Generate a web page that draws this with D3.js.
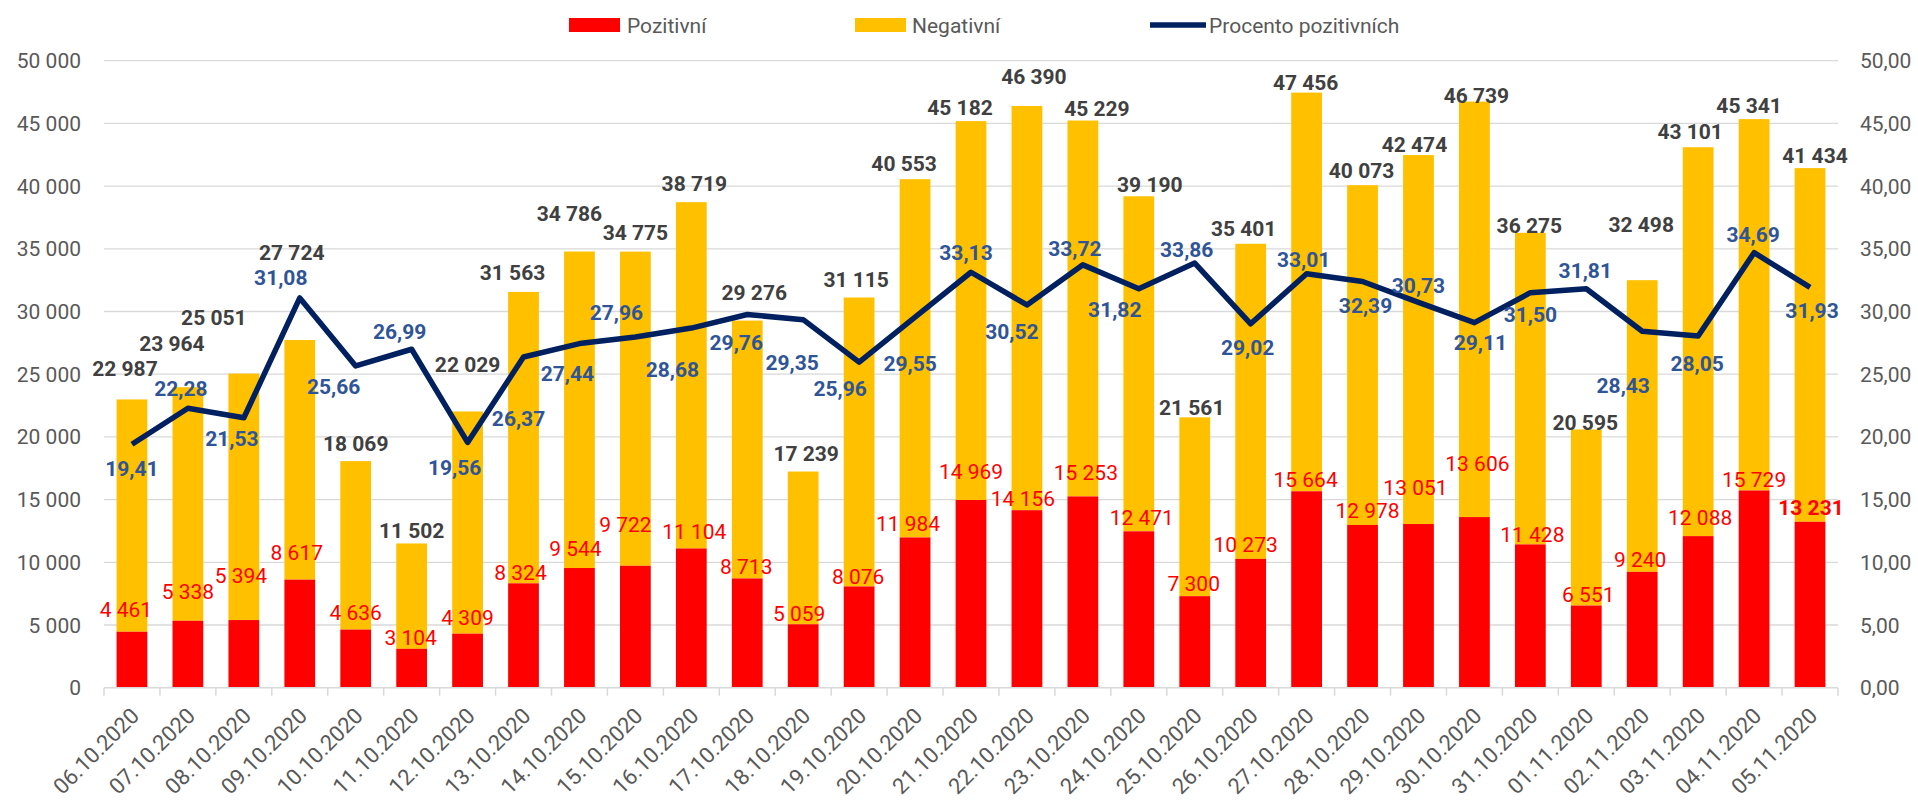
<!DOCTYPE html>
<html>
<head>
<meta charset="utf-8">
<script src="https://cdn.jsdelivr.net/npm/d3@7"></script>
<style>
  body { margin: 0; background: #fff; }
  svg { font-family: Roboto, "Open Sans", sans-serif; }
</style>
</head>
<body>
<svg id="chart" width="1918" height="801"></svg>
<script>
const dates = ["06.10.2020","07.10.2020","08.10.2020","09.10.2020","10.10.2020","11.10.2020","12.10.2020","13.10.2020","14.10.2020","15.10.2020","16.10.2020","17.10.2020","18.10.2020","19.10.2020","20.10.2020","21.10.2020","22.10.2020","23.10.2020","24.10.2020","25.10.2020","26.10.2020","27.10.2020","28.10.2020","29.10.2020","30.10.2020","31.10.2020","01.11.2020","02.11.2020","03.11.2020","04.11.2020","05.11.2020"];
const totals = [22987,23964,25051,27724,18069,11502,22029,31563,34786,34775,38719,29276,17239,31115,40553,45182,46390,45229,39190,21561,35401,47456,40073,42474,46739,36275,20595,32498,43101,45341,41434];
const positives = [4461,5338,5394,8617,4636,3104,4309,8324,9544,9722,11104,8713,5059,8076,11984,14969,14156,15253,12471,7300,10273,15664,12978,13051,13606,11428,6551,9240,12088,15729,13231];
const percents = [19.41,22.28,21.53,31.08,25.66,26.99,19.56,26.37,27.44,27.96,28.68,29.76,29.35,25.96,29.55,33.13,30.52,33.72,31.82,33.86,29.02,33.01,32.39,30.73,29.11,31.50,31.81,28.43,28.05,34.69,31.93];
const leftTicks = [0,5000,10000,15000,20000,25000,30000,35000,40000,45000,50000];
const rightTicks = [0,5,10,15,20,25,30,35,40,45,50];

// label nudges (dx, dy) as placed by hand in the original
const totalOff = [[-7,-31],[-16,-44],[-30,-56],[-8,-88],[0,-18],[0,-13],[0,-47],[-11,-19],[-10,-38],[0,-19],[3,-19],[7,-28],[3,-18],[-3,-18],[-11,-16],[-11,-14],[7,-30],[14,-12],[11,-12],[-3,-10],[-7,-15],[-1,-10],[-1,-15],[-4,-11],[2,-6],[-1,-7],[-1,-7],[-1,-56],[-8,-16],[-5,-14],[5,-13]];
const posOff = [[-6,-22],[0,-29],[-3,-45],[-3,-27],[0,-17],[-1,-11],[0,-16],[-3,-11],[-4,-20],[-10,-41],[3,-17],[-1,-12],[-4,-11],[-1,-10],[-7,-14],[0,-29],[-4,-12],[3,-24],[3,-14],[-1,-13],[-5,-14],[-1,-12],[5,-15],[-3,-37],[3,-54],[2,-10],[2,-11],[-2,-12],[2,-19],[0,-11],[1,-14]];
const pctOff = [[0,24],[-7,-20],[-12,21],[-19,-21],[-22,21],[-12,-18],[-13,25],[-5,61],[-12,30],[-19,-25],[-19,41],[-11,28],[-11,43],[-19,26],[-5,46],[-5,-20],[-15,26],[-8,-16],[-24,21],[-8,-14],[-3,24],[-3,-14],[3,24],[0,-17],[6,20],[0,22],[-1,-18],[-19,54],[-1,27],[-1,-18],[2,23]];

const cz = d3.formatLocale({ decimal: ",", thousands: " ", grouping: [3], currency: ["", ""] });
const fmtInt = cz.format(",d");
const fmtPct = cz.format(".2f");

const svg = d3.select("#chart");
const margin = { left: 104, right: 1838, top: 60.7, bottom: 687.7 };

const x = d3.scaleBand().domain(dates).range([margin.left, margin.right]).paddingInner(0.45).paddingOuter(0.225);
const xEdge = d3.scaleLinear().domain([0, dates.length]).range([margin.left, margin.right]);
const y = d3.scaleLinear().domain([0, 50000]).range([margin.bottom, margin.top]);
const y2 = d3.scaleLinear().domain([0, 50]).range([margin.bottom, margin.top]);
const cx = d => x(d) + x.bandwidth() / 2;

// gridlines
svg.append("g").selectAll("line").data(leftTicks.slice(1)).join("line")
  .attr("x1", margin.left).attr("x2", margin.right)
  .attr("y1", d => y(d)).attr("y2", d => y(d))
  .attr("stroke", "#D9D9D9").attr("stroke-width", 1.3);

// left axis labels
svg.append("g").selectAll("text").data(leftTicks).join("text")
  .attr("x", 81).attr("y", d => y(d)).attr("dy", "0.36em")
  .attr("text-anchor", "end").attr("font-size", 21).attr("fill", "#595959")
  .text(d => fmtInt(d));

// right axis labels
svg.append("g").selectAll("text").data(rightTicks).join("text")
  .attr("x", 1860).attr("y", d => y2(d)).attr("dy", "0.36em")
  .attr("text-anchor", "start").attr("font-size", 21).attr("fill", "#595959")
  .text(d => fmtPct(d));

// bars
const bars = svg.append("g");
bars.selectAll("rect.neg").data(dates).join("rect")
  .attr("class", "neg")
  .attr("x", d => x(d)).attr("width", x.bandwidth())
  .attr("y", (d, i) => y(totals[i]))
  .attr("height", (d, i) => y(positives[i]) - y(totals[i]))
  .attr("fill", "#FFC000");
bars.selectAll("rect.pos").data(dates).join("rect")
  .attr("class", "pos")
  .attr("x", d => x(d)).attr("width", x.bandwidth())
  .attr("y", (d, i) => y(positives[i]))
  .attr("height", (d, i) => y(0) - y(positives[i]))
  .attr("fill", "#FF0000");

// x axis baseline + ticks
const ax = svg.append("g");
ax.append("line").attr("x1", margin.left).attr("x2", margin.right)
  .attr("y1", y(0)).attr("y2", y(0)).attr("stroke", "#D9D9D9").attr("stroke-width", 1.5);
ax.selectAll("line.tick").data(d3.range(dates.length + 1)).join("line")
  .attr("class", "tick")
  .attr("x1", d => xEdge(d)).attr("x2", d => xEdge(d))
  .attr("y1", y(0)).attr("y2", y(0) + 8)
  .attr("stroke", "#D9D9D9").attr("stroke-width", 1.5);
ax.selectAll("text").data(dates).join("text")
  .attr("transform", d => `translate(${cx(d) + 3},${y(0) + 24}) rotate(-45)`)
  .attr("text-anchor", "end").attr("dy", "0.36em")
  .attr("font-size", 22).attr("fill", "#595959")
  .text(d => d);

// line
const line = d3.line().x((d, i) => cx(dates[i])).y(d => y2(d));
svg.append("path").datum(percents)
  .attr("d", line).attr("fill", "none")
  .attr("stroke", "#002060").attr("stroke-width", 5.5)
  .attr("stroke-linejoin", "round");

// positive labels
svg.append("g").selectAll("text").data(positives).join("text")
  .attr("x", (d, i) => cx(dates[i]) + posOff[i][0])
  .attr("y", (d, i) => y(d) + posOff[i][1])
  .attr("dy", "0.36em").attr("text-anchor", "middle")
  .attr("font-size", 21).attr("fill", "#FF0000")
  .attr("font-weight", (d, i) => i === positives.length - 1 ? "bold" : "normal")
  .text(d => fmtInt(d));

// total labels
svg.append("g").selectAll("text").data(totals).join("text")
  .attr("x", (d, i) => cx(dates[i]) + totalOff[i][0])
  .attr("y", (d, i) => y(d) + totalOff[i][1])
  .attr("dy", "0.36em").attr("text-anchor", "middle")
  .attr("font-size", 21).attr("font-weight", "bold").attr("fill", "#404040")
  .text(d => fmtInt(d));

// percent labels
svg.append("g").selectAll("text").data(percents).join("text")
  .attr("x", (d, i) => cx(dates[i]) + pctOff[i][0])
  .attr("y", (d, i) => y2(d) + pctOff[i][1])
  .attr("dy", "0.36em").attr("text-anchor", "middle")
  .attr("font-size", 21).attr("font-weight", "bold").attr("fill", "#2F5597")
  .text(d => fmtPct(d));

// legend
const legend = [
  { name: "Pozitivní", color: "#FF0000", type: "rect", x: 569, tx: 627 },
  { name: "Negativní", color: "#FFC000", type: "rect", x: 855, tx: 912 },
  { name: "Procento pozitivních", color: "#002060", type: "line", x: 1150, tx: 1209 }
];
const lg = svg.append("g").selectAll("g").data(legend).join("g");
lg.filter(d => d.type === "rect").append("rect")
  .attr("x", d => d.x).attr("y", 18).attr("width", 51).attr("height", 14)
  .attr("fill", d => d.color);
lg.filter(d => d.type === "line").append("line")
  .attr("x1", d => d.x).attr("x2", d => d.x + 56).attr("y1", 25).attr("y2", 25)
  .attr("stroke", d => d.color).attr("stroke-width", 5.5);
lg.append("text")
  .attr("x", d => d.tx).attr("y", 25).attr("dy", "0.36em")
  .attr("font-size", 21).attr("fill", "#595959")
  .text(d => d.name);
</script>
</body>
</html>
